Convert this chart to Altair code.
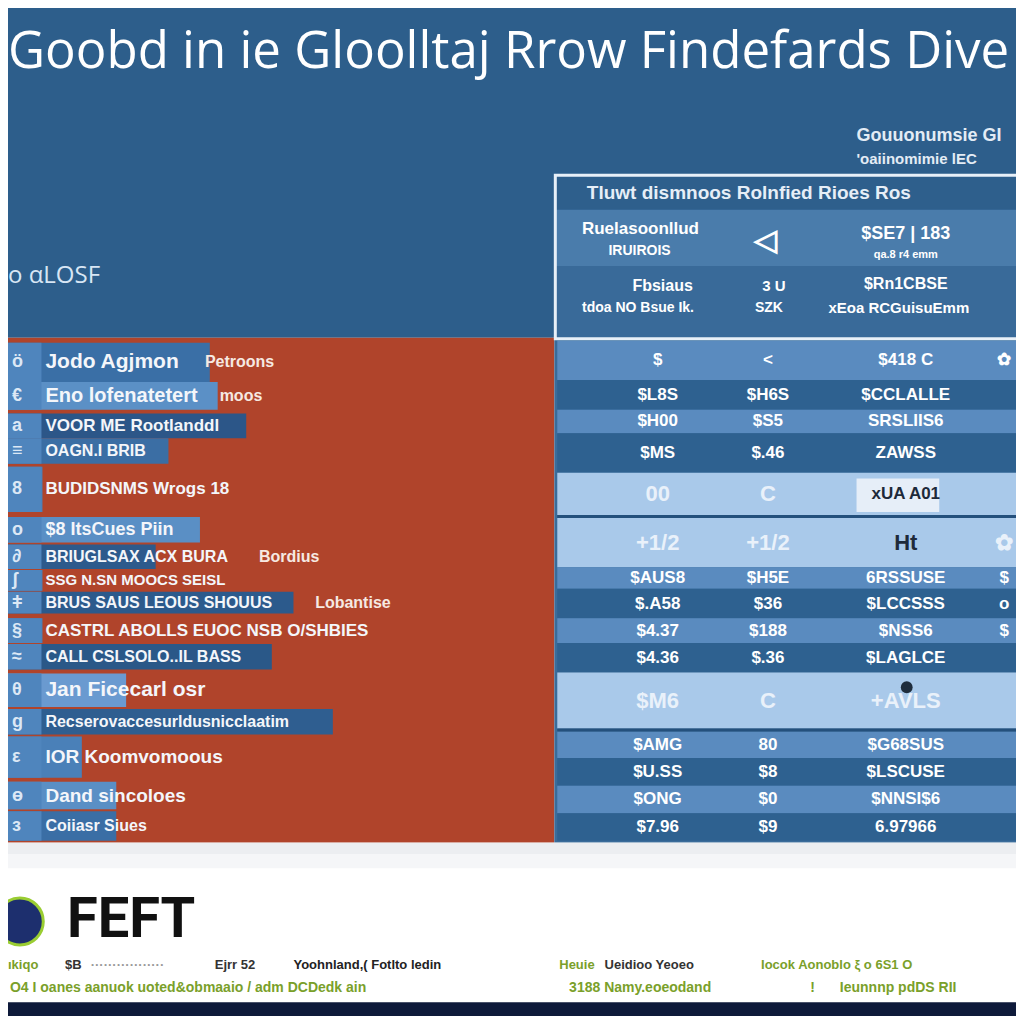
import altair as alt
import pandas as pd

# ---------------- background blocks ----------------
block_x0 = [0, 0, 555, 0, 0, 0, 0, 555, 555, 555]
block_x1 = [1024, 555, 1024, 1024, 1024, 1024, 1024, 1024, 1024, 1024]
block_y0 = [0, 335, 335, 848, 848, 860, 1010, 170, 205, 262]
block_y1 = [335, 848, 848, 1010, 860, 874, 1024, 205, 262, 335]
block_fill = ["#2d5e8b", "#b0442b", "#3a6c9a", "#ffffff", "#eceef1", "#f5f6f8", "#0e1a3a",
              "#2e5f8c", "#4a7cab", "#396a99"]

# ---------------- right table rows ----------------
row_top = [338, 378, 408, 432, 472, 518, 568, 590, 620, 645, 675, 735, 762, 790, 818]
row_bottom = [378, 408, 432, 472, 515, 568, 590, 620, 645, 675, 732, 762, 790, 818, 846]
row_shade = ["mid", "dark", "mid", "dark", "light", "light", "mid", "dark", "mid",
             "dark", "light", "mid", "dark", "mid", "dark"]
shade_fill = {"mid": "#5a8bbf", "dark": "#2e6190", "light": "#a9c9ea"}

col_x = [660, 772, 912, 1012]
col1 = ["$", "$L8S", "$H00", "$MS", "00", "+1/2", "$AUS8", "$.A58", "$4.37", "$4.36",
        "$M6", "$AMG", "$U.SS", "$ONG", "$7.96"]
col2 = ["<", "$H6S", "$S5", "$.46", "C", "+1/2", "$H5E", "$36", "$188", "$.36",
        "C", "80", "$8", "$0", "$9"]
col3 = ["$418 C", "$CCLALLE", "SRSLIIS6", "ZAWSS", "xUA A01", "Ht", "6RSSUSE",
        "$LCCSSS", "$NSS6", "$LAGLCE", "+AVLS", "$G68SUS", "$LSCUSE", "$NNSI$6", "6.97966"]
col4 = ["✿", "", "", "", "", "✿", "$", "o", "$", "", "", "", "", "", ""]

# ---------------- left panel rows ----------------
left_y0 = [340, 380, 412, 437, 466, 517, 545, 571, 593, 620, 646, 676, 712, 740, 786, 816]
left_y1 = [380, 408, 437, 463, 512, 543, 570, 592, 615, 645, 672, 710, 738, 782, 814, 846]
left_bar = [205, 213, 242, 163, 35, 195, 150, 35, 290, 35, 268, 120, 330, 75, 110, 110]
left_fill = ["#3a6fa6", "#5b90c6", "#2c5688", "#3b6ea4", "#4a80b8", "#5a8fc5", "#2d5a8c",
             "#4a80b8", "#2c5a8c", "#4a80b8", "#2a5888", "#6a9ad0", "#2f5e90", "#4a80b8",
             "#5a8fc5", "#3a6ea5"]
left_label = ["Jodo Agjmon", "Eno lofenatetert", "VOOR ME Rootlanddl", "OAGN.I  BRIB",
              "BUDIDSNMS Wrogs 18", "$8 ItsCues Piin", "BRIUGLSAX ACX BURA", "SSG N.SN MOOCS SEISL",
              "BRUS SAUS LEOUS SHOUUS", "CASTRL ABOLLS  EUOC NSB O/SHBIES", "CALL CSLSOLO..IL BASS",
              "Jan Ficecarl osr", "Recserovaccesurldusnicclaatim", "IOR Koomvomoous",
              "Dand sincoloes", "Coiiasr Siues"]
left_label2 = ["Petroons", "moos", "", "", "", "", "Bordius", "", "Lobantise", "", "",
               "", "", "", "", ""]
left_label2_x = [200, 215, 0, 0, 0, 0, 255, 0, 312, 0, 0, 0, 0, 0, 0, 0]
left_size = [21, 20, 17, 16, 17, 18, 16, 15, 16, 17, 16, 21, 16, 19, 19, 16]
icon_glyph = ["ö", "€", "a", "≡", "8", "o", "∂", "ʃ", "ǂ", "§", "≈", "θ", "g", "ε", "ɵ", "ɜ"]

# ---------------- free texts ----------------
title_text = "Goobd in ie Gloolltaj Rrow Findefards Dive"
head_text = ["Gouuonumsie GI", "'oaiinomimie lEC", "Tluwt dismnoos Rolnfied Rioes Ros",
             "Ruelasoonllud", "IRUIROIS"]
head_x = [862, 862, 588, 583, 610]
head_y = [130, 153, 188, 225, 247]
head_size = [18, 15, 19, 17, 14]
head_color = ["#e3ecf5", "#e3ecf5", "#e6eef7", "#ffffff", "#ffffff"]

sub_text = "o αLOSF"

headc_text = ["◁", "$SE7 | 183", "qa.8 r4 emm", "Fbsiaus", "3 U", "$Rn1CBSE",
              "tdoa NO Bsue Ik.", "SZK", "xEoa RCGuisuEmm"]
headc_x = [770, 912, 912, 665, 778, 912, 640, 773, 905]
headc_y = [237, 230, 251, 282, 282, 280, 305, 305, 305]
headc_size = [30, 18, 11, 16, 15, 16, 14, 14, 15]

foot1_text = ["ıkiqo", "$B", "·················", "Ejrr 52", "Yoohnland,( Fotlto ledin",
              "Heuie", "Ueidioo Yeoeo", "Iocok Aonoblo ξ o 6S1 O"]
foot1_x = [0, 58, 84, 210, 290, 560, 606, 765]
foot1_color = ["#7aa02a", "#333333", "#9a9a9a", "#333333", "#222222", "#7aa02a", "#333333", "#7aa02a"]
foot2_text = ["O4 I oanes aanuok uoted&obmaaio / adm DCDedk ain", "3188 Namy.eoeodand", "!",
              "Ieunnnp pdDS RII"]
foot2_x = [2, 570, 815, 845]

# ---------------- build tables ----------------
xs = alt.Scale(domain=[0, 1024], nice=False, zero=False)
ys = alt.Scale(domain=[0, 1024], nice=False, zero=False, reverse=True)

rect_rows = []
for a, b, c, d, f in zip(block_x0, block_x1, block_y0, block_y1, block_fill):
    rect_rows.append(dict(x0=a, x1=b, y0=c, y1=d, fill=f))
for t, b, s in zip(row_top, row_bottom, row_shade):
    rect_rows.append(dict(x0=558, x1=1024, y0=t, y1=b, fill=shade_fill[s]))
rect_rows.append(dict(x0=558, x1=1024, y0=515, y1=518, fill="#24507c"))
rect_rows.append(dict(x0=558, x1=1024, y0=732, y1=735, fill="#24507c"))
rect_rows.append(dict(x0=862, x1=946, y0=478, y1=512, fill="#e6eef8"))
for a, b, w, f in zip(left_y0, left_y1, left_bar, left_fill):
    rect_rows.append(dict(x0=0, x1=w, y0=a, y1=b, fill=f))
    rect_rows.append(dict(x0=0, x1=34, y0=a, y1=b, fill="#4f85bd"))
rects = pd.DataFrame(rect_rows)


def R(df):
    return alt.Chart(df).mark_rect().encode(
        x=alt.X("x0:Q", scale=xs, axis=None), x2="x1:Q",
        y=alt.Y("y0:Q", scale=ys, axis=None), y2="y1:Q",
        color=alt.Color("fill:N", scale=None))


def T(df, align="left", font="Liberation Sans", weight="bold", **kw):
    return alt.Chart(df).mark_text(align=align, baseline="middle", font=font,
                                   fontWeight=weight, **kw).encode(
        x=alt.X("x:Q", scale=xs, axis=None), y=alt.Y("y:Q", scale=ys, axis=None),
        text="text:N", color=alt.Color("color:N", scale=None),
        size=alt.Size("size:Q", scale=None))


outline = alt.Chart(pd.DataFrame([dict(x0=556, x1=1030, y0=170, y1=336)])).mark_rect(
    filled=False, stroke="#e8f0f8", strokeWidth=3).encode(
    x=alt.X("x0:Q", scale=xs, axis=None), x2="x1:Q",
    y=alt.Y("y0:Q", scale=ys, axis=None), y2="y1:Q")

# cells
cell_rows = []
for i, (t, b) in enumerate(zip(row_top, row_bottom)):
    ym = (t + b) / 2
    for j, col in enumerate([col1, col2, col3, col4]):
        txt = col[i]
        if not txt:
            continue
        colr = "#ffffff"
        if row_shade[i] == "light":
            colr = "#e9f1fa"
        if j == 2 and i in (4, 5):
            colr = "#1e2a3a"
        size = 17 if row_shade[i] != "light" else 22
        if j == 2 and i == 4:
            size = 17
        cell_rows.append(dict(x=col_x[j], y=ym, text=txt, color=colr, size=size))
cells = pd.DataFrame(cell_rows)

dot = alt.Chart(pd.DataFrame([dict(x=913, y=690)])).mark_point(
    filled=True, size=140, color="#1f2d3d", opacity=1).encode(
    x=alt.X("x:Q", scale=xs, axis=None), y=alt.Y("y:Q", scale=ys, axis=None))

left_rows = []
for i in range(len(left_y0)):
    ym = (left_y0[i] + left_y1[i]) / 2
    left_rows.append(dict(x=38, y=ym, text=left_label[i], color="#f4f6fa", size=left_size[i]))
    if left_label2[i]:
        left_rows.append(dict(x=left_label2_x[i], y=ym, text=left_label2[i],
                              color="#f6e9e2", size=16))
    left_rows.append(dict(x=4, y=ym, text=icon_glyph[i], color="#dce8f5", size=18))
lefts = pd.DataFrame(left_rows)

title_df = pd.DataFrame([dict(x=0, y=46, text=title_text, color="#ffffff", size=51)])
sub_df = pd.DataFrame([dict(x=0, y=272, text=sub_text, color="#d8e6f4", size=24)])
head_df = pd.DataFrame(dict(x=head_x, y=head_y, text=head_text, size=head_size, color=head_color))
headc_df = pd.DataFrame(dict(x=headc_x, y=headc_y, text=headc_text, size=headc_size,
                             color=["#ffffff"] * len(headc_text)))
foot1_df = pd.DataFrame(dict(x=foot1_x, y=[972] * len(foot1_x), text=foot1_text,
                             size=[13] * len(foot1_x), color=foot1_color))
foot2_df = pd.DataFrame(dict(x=foot2_x, y=[996] * len(foot2_x), text=foot2_text,
                             size=[14] * len(foot2_x), color=["#7aa02a"] * len(foot2_x)))
logo_df = pd.DataFrame([dict(x=60, y=926, text="FEFT", color="#111111", size=56)])

logo_mark = alt.Chart(pd.DataFrame([dict(x=12, y=928)])).mark_point(
    filled=True, size=2200, shape="circle", color="#1d2f6e", stroke="#9acd32",
    strokeWidth=3, opacity=1).encode(
    x=alt.X("x:Q", scale=xs, axis=None), y=alt.Y("y:Q", scale=ys, axis=None))

chart = alt.layer(
    R(rects),
    outline,
    dot,
    T(cells, align="center"),
    T(lefts, align="left"),
    T(title_df, font="Open Sans", weight="normal"),
    T(sub_df, font="Open Sans", weight="normal"),
    T(head_df, weight="bold"),
    T(headc_df, align="center"),
    logo_mark,
    T(logo_df, font="Roboto", weight="bold"),
    T(foot1_df),
    T(foot2_df),
).properties(
    width=1008, height=1008, padding=0, autosize="none", background="#ffffff"
).configure_view(stroke=None)

chart.save("out.html", embed_options={"renderer": "svg", "actions": False})
